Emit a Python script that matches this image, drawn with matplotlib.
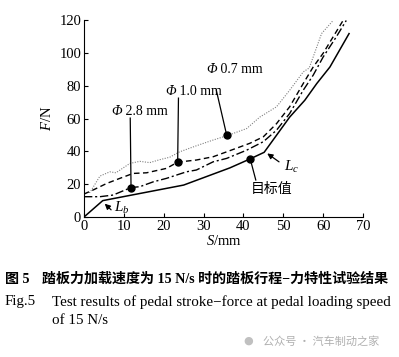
import numpy as np
import matplotlib
matplotlib.use("Agg")
import matplotlib.pyplot as plt

plt.rcParams["font.family"] = ["Liberation Serif", "Noto Sans CJK SC"]
plt.rcParams["mathtext.fontset"] = "custom"
plt.rcParams["mathtext.rm"] = "Liberation Serif"
plt.rcParams["mathtext.it"] = "Liberation Serif:italic"

# curves (S in mm, F in N)
s_target = [0, 4.7, 25, 36.6, 41.7, 45.2, 51.6, 55.4, 58.4, 61.7, 66.5]
f_target = [0, 10, 19.5, 30, 35.5, 39.5, 61, 71.3, 81.5, 91.6, 112]

s_07 = [0, 1.5, 4, 6.5, 8, 11.5, 14, 16.5, 19, 21.5, 24, 28.2, 32.4, 35.8,
        40.8, 44.1, 48.3, 51.6, 55, 56.5, 57.5, 59.6, 62.5]
f_07 = [15, 15, 25, 27.6, 27, 32.7, 34, 33.2, 35, 36.5, 39.8, 43.5, 47, 49.6,
        54, 61, 67.3, 77.4, 88.6, 91, 97.7, 112, 120]

s_10 = [0, 2.3, 5.7, 9, 12.3, 15.7, 20.7, 23.5, 28.2, 32.4, 35.8, 41.6, 45,
        48.3, 51.6, 55, 57.5, 60, 62.5, 65]
f_10 = [14, 16.5, 20.5, 23.6, 26.6, 27, 29.7, 33.5, 34.8, 36.8, 39.8, 45, 49,
        57, 67.3, 81.5, 91.6, 100, 110, 120]

s_28 = [0, 4, 7.3, 11.8, 14, 17.4, 20.7, 25.7, 28.2, 32.4, 35.8, 40.8, 45,
        48.3, 51.6, 55, 57.5, 60, 63.3, 65.8]
f_28 = [12.4, 12.4, 13.4, 18, 18.5, 21.5, 23.6, 27.6, 28.7, 33.7, 35.8, 40.8,
        46, 53, 63.2, 77.4, 86.6, 97.7, 110, 120]

# marked points: (S, F)
pt_28 = (11.8, 18)
pt_10 = (23.5, 33.5)
pt_07 = (35.8, 50)
pt_target = (41.7, 35.5)

fig = plt.figure(figsize=(3.99, 3.57), dpi=100)
ax = fig.add_axes([84 / 399, 1 - 217 / 357, 279 / 399, 196.5 / 357])

ax.plot(s_07, f_07, color="#808080", lw=0.8, ls=(0, (1, 1.3)))
ax.plot(s_10, f_10, color="black", lw=1.0, ls=(0, (4, 2.5)))
ax.plot(s_28, f_28, color="black", lw=1.0, ls=(0, (6, 2, 1.5, 2)))
ax.plot(s_target, f_target, color="black", lw=1.1)

for p in [pt_28, pt_10, pt_07, pt_target]:
    ax.plot(p[0], p[1], "o", color="black", ms=5, zorder=5)


def phi_label(x, y, rest):
    # italic Φ followed by upright text
    t = ax.text(x, y, "Φ", style="italic", ha="left", va="baseline", fontsize=10)
    ax.annotate(rest, xy=(1, 0), xycoords=t, va="bottom", ha="left", fontsize=10)


# leader lines and labels
ax.plot([pt_28[0], 11.6], [pt_28[1], 60.4], color="black", lw=0.9)
phi_label(6.9, 62.5, " 2.8 mm")
ax.plot([pt_10[0], 23.7], [pt_10[1], 72.6], color="black", lw=0.9)
phi_label(20.3, 74.5, " 1.0 mm")
ax.plot([pt_07[0], 33.2], [pt_07[1], 77.4], color="black", lw=0.9)
phi_label(30.6, 87.7, " 0.7 mm")
ax.plot([pt_target[0], 43.1], [pt_target[1], 22.6], color="black", lw=0.9)
ax.text(47, 16.9, "目标值", ha="center", va="center", fontsize=10,
        family=["Noto Sans CJK SC"])

ax.annotate("", xy=(45.4, 39.8), xytext=(49.5, 32.7),
            arrowprops=dict(arrowstyle="-|>", color="black", lw=0.9,
                            mutation_scale=8))
ax.text(50.3, 30.5, "$L_c$", ha="left", va="center", fontsize=11)
ax.annotate("", xy=(4.7, 9.3), xytext=(7.3, 3.2),
            arrowprops=dict(arrowstyle="-|>", color="black", lw=0.9,
                            mutation_scale=8))
ax.text(7.6, 5.8, "$L_b$", ha="left", va="center", fontsize=11)

ax.set_xlim(0, 70)
ax.set_ylim(0, 120)
ax.set_xticks(np.arange(0, 71, 10))
ax.set_yticks(np.arange(0, 121, 20))
ax.tick_params(direction="in", length=3, labelsize=10.5, pad=2)
ax.spines["top"].set_visible(False)
ax.spines["right"].set_visible(False)
ax.set_xlabel("$\\mathit{S}$/mm", fontsize=10.5, labelpad=1)
ax.set_ylabel("$\\mathit{F}$/N", fontsize=10.5, labelpad=4)

# caption
fig.text(5 / 399, 1 - 279 / 357, "图 5", fontsize=10.1, weight="bold", va="center")
fig.text(42 / 399, 1 - 279 / 357, "踏板力加载速度为 15 N/s 时的踏板行程−力特性试验结果",
         fontsize=10.1, weight="bold", va="center")
fig.text(5 / 399, 1 - 301.7 / 357, "Fig.5", fontsize=10.8, va="center")
fig.text(52 / 399, 1 - 301.7 / 357,
         "Test results of pedal stroke−force at pedal loading speed",
         fontsize=10.8, va="center")
fig.text(52 / 399, 1 - 321 / 357, "of 15 N/s", fontsize=10.8, va="center")
fig.text(248 / 399, 1 - 341 / 357, "●", fontsize=8, color="#c0c0c0",
         va="center", ha="center", family=["DejaVu Sans"])
fig.text(263 / 399, 1 - 341 / 357, "公众号 · 汽车制动之家", fontsize=8,
         color="#b0b0b0", va="center", family=["Noto Sans CJK SC"])

fig.savefig("out.png", dpi=100)
